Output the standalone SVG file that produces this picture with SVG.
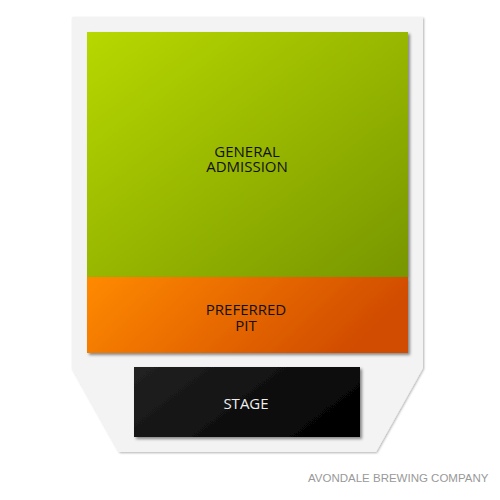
<svg xmlns="http://www.w3.org/2000/svg" width="500" height="500" viewBox="0 0 500 500">
<defs>
<linearGradient id="gGreen" x1="0" y1="0" x2="1" y2="1">
<stop offset="0" stop-color="#b8d800"/>
<stop offset="1" stop-color="#779600"/>
</linearGradient>
<linearGradient id="gOrange" x1="0" y1="0" x2="1" y2="0.25">
<stop offset="0" stop-color="#ff8a00"/>
<stop offset="1" stop-color="#d14c00"/>
</linearGradient>
<linearGradient id="gStage" x1="0" y1="0" x2="1" y2="0.4">
<stop offset="0" stop-color="#222222"/>
<stop offset="1" stop-color="#050505"/>
</linearGradient>
<filter id="sh" x="-5%" y="-5%" width="115%" height="120%">
<feDropShadow dx="2" dy="2" stdDeviation="1.5" flood-color="#000" flood-opacity="0.45"/>
</filter>
<filter id="sh2" x="-5%" y="-5%" width="115%" height="120%">
<feDropShadow dx="1" dy="1" stdDeviation="1" flood-color="#000" flood-opacity="0.3"/>
</filter>
</defs>
<style>
.lbl{font-family:"Open Sans","Liberation Sans",sans-serif;font-size:15px;text-anchor:middle;fill:#111}
.foot{font-family:"Liberation Sans",Arial,sans-serif;font-size:11.5px;fill:#999}
</style>
<rect width="500" height="500" fill="#fff"/>
<g id="venue">
<polygon points="72,17 423,17 423,368 376,452 119,452 72,368" fill="#f3f3f3" filter="url(#sh2)"/>
</g>
<g id="general-admission">
<rect x="87" y="32" width="321" height="245" fill="url(#gGreen)" filter="url(#sh)"/>
<text class="lbl" x="247" y="157">GENERAL</text>
<text class="lbl" x="247" y="172">ADMISSION</text>
</g>
<g id="preferred-pit">
<rect x="87" y="277" width="321" height="76" fill="url(#gOrange)" filter="url(#sh)"/>
<text class="lbl" x="246" y="315">PREFERRED</text>
<text class="lbl" x="246" y="331">PIT</text>
</g>
<g id="stage">
<rect x="134" y="367" width="226" height="70" fill="url(#gStage)" filter="url(#sh)"/>
<text class="lbl" x="246" y="409" style="fill:#eee">STAGE</text>
</g>
<g id="connectors"/>
<text class="foot" x="308" y="482">AVONDALE BREWING COMPANY</text>
</svg>
